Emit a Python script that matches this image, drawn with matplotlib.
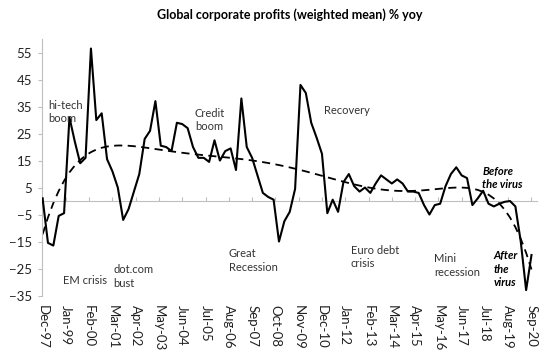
"""
Global corporate profits (weighted mean), % yoy, quarterly Dec-97 .. Sep-20,
with a 6th-order polynomial trend (as in the Excel original).
"""
import matplotlib
matplotlib.use("Agg")
import matplotlib.pyplot as plt
import numpy as np

plt.rcParams.update({
    "font.family": ["Lato", "DejaVu Sans"],
    "font.size": 8,
})

# ── Data ──────────────────────────────────────────────────────────────────────
# quarterly values, Dec-97 first, Sep-20 last
profits = [
    1, -15.5, -16.5, -5.5, -4.5, 31, 22, 14, 16, 56.5,
    30, 32.5, 15.5, 11, 5, -7, -3, 3.5, 10, 23,
    26, 37, 20.5, 20, 18.5, 29, 28.5, 27, 20, 16,
    16, 14.5, 22.5, 15, 18.5, 19.5, 11.5, 38, 20, 16,
    9.5, 3, 1.5, 0.5, -15, -7.5, -4, 4.5, 43, 40,
    29, 23.5, 17.5, -4.5, 0.5, -4, 7, 10, 5.5, 3.5,
    5, 3, 6.5, 9.5, 8, 6.5, 8, 6.5, 3.5, 3.5,
    3, -1.5, -5, -1.5, -1, 5.5, 10, 12.5, 9.5, 8.5,
    -1.5, 1, 3.8, -1, -2, -1, -0.3, 0, -2, -15,
    -33, -20,
]
tick_labels = [
    "Dec-97", "Jan-99", "Feb-00", "Mar-01", "Apr-02", "May-03", "Jun-04",
    "Jul-05", "Aug-06", "Sep-07", "Oct-08", "Nov-09", "Dec-10", "Jan-12",
    "Feb-13", "Mar-14", "Apr-15", "May-16", "Jun-17", "Jul-18", "Aug-19",
    "Sep-20",
]
y_ticks = [-35, -25, -15, -5, 5, 15, 25, 35, 45, 55]

# (text, month, value, italic-bold?)
notes = [
    ("hi-tech\nboom", 3, 33, False),
    ("EM crisis", 11.5, -29.5, False),
    ("dot.com\nbust", 39.5, -28, False),
    ("Credit\nboom", 85, 30, False),
    ("Great\nRecession", 104, -22, False),
    ("Recovery", 157, 33.5, False),
    ("Euro debt\ncrisis", 172, -20.7, False),
    ("Mini\nrecession", 218.5, -24, False),
    ("Before\nthe virus", 245.5, 8.5, True),
    ("After\nthe\nvirus", 252, -25.2, True),
]

months = np.arange(len(profits)) * 3          # quarterly steps, in months
tick_months = np.arange(len(tick_labels)) * 13

# Excel-style polynomial trendline (order 6)
coef = np.polyfit(months, profits, 6)
trend = np.polyval(coef, months)

# ── Figure ────────────────────────────────────────────────────────────────────
fig = plt.figure(figsize=(5.4, 3.52), dpi=100)
ax = fig.add_axes([0.0772, 0.1605, 0.917, 0.7285])

ax.plot(months, profits, color="black", lw=1.5, zorder=3)
ax.plot(months, trend, color="black", lw=1.3, ls=(0, (4.5, 3)), zorder=2)

ax.set_xlim(-0.5, 276)
ax.set_ylim(-35, 60)
ax.set_yticks(y_ticks)

grey = "#bfbfbf"
for s in ("top", "right"):
    ax.spines[s].set_visible(False)
ax.spines["left"].set_color(grey)
ax.spines["bottom"].set_color(grey)
ax.spines["bottom"].set_position(("data", 0))
ax.tick_params(axis="y", length=3, color=grey, pad=4, labelsize=9.5,
               labelcolor="#222222")
ax.set_xticks(tick_months)
ax.tick_params(axis="x", direction="in", length=3, color=grey,
               labelbottom=False)

# category labels sit at the bottom of the plot area
sec = ax.secondary_xaxis("bottom")
sec.set_xticks(tick_months, labels=tick_labels)
sec.tick_params(length=0, pad=7, labelsize=9.5, labelcolor="#222222")
for lbl in sec.get_xticklabels():
    lbl.set_rotation(-90)
    lbl.set_va("top")
    lbl.set_ha("center")
sec.spines["bottom"].set_visible(False)

for text, mx, val, emph in notes:
    ax.text(mx, val, text, ha="left", va="center", fontsize=8,
            color="#333333" if not emph else "black",
            fontweight="bold" if emph else "normal",
            fontstyle="italic" if emph else "normal",
            linespacing=1.3)

fig.text(0.537, 0.957, "Global corporate profits (weighted mean) % yoy",
         ha="center", va="center", fontsize=9, fontweight="bold")

fig.savefig("out.png", dpi=100)
